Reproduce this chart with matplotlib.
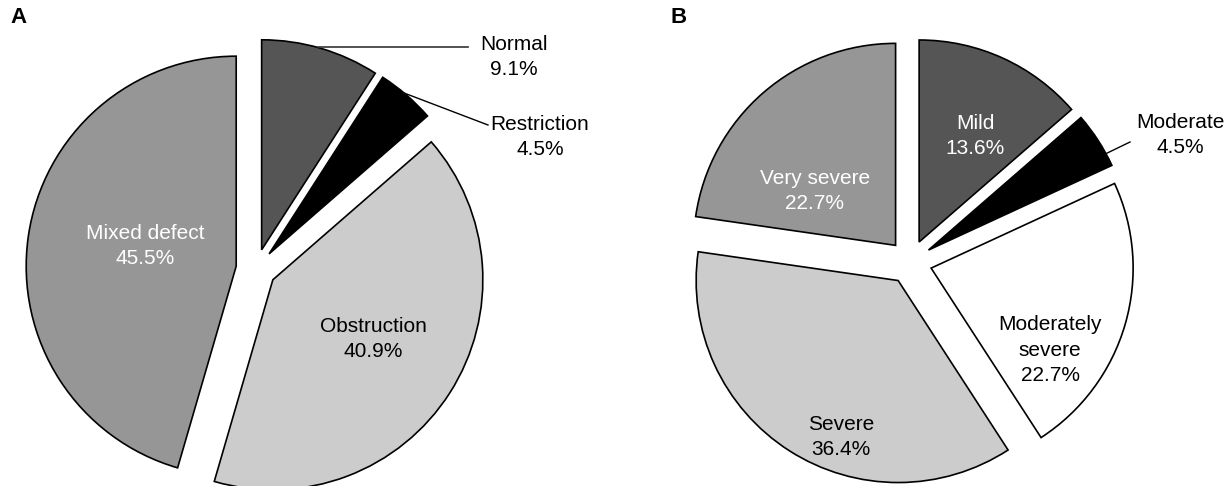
import matplotlib
matplotlib.use("Agg")
import matplotlib.pyplot as plt

plt.rcParams["font.family"] = ["Liberation Sans", "DejaVu Sans"]

# Panel A: pulmonary function pattern
labels_a = ["Normal", "Restriction", "Obstruction", "Mixed defect"]
values_a = [9.1, 4.5, 40.9, 45.5]
colors_a = ["#555555", "#000000", "#cccccc", "#969696"]

# Panel B: severity
labels_b = ["Mild", "Moderate", "Moderately\nsevere", "Severe", "Very severe"]
values_b = [13.6, 4.5, 22.7, 36.4, 22.7]
colors_b = ["#555555", "#000000", "#ffffff", "#cccccc", "#969696"]

W, H = 1232, 486


def Y(y):
    # screen pixel row -> data y
    return H - y


fig = plt.figure(figsize=(W / 100, H / 100), dpi=100)
ax = fig.add_axes([0, 0, 1, 1])

wp = dict(edgecolor="black", linewidth=1.2)
ax.pie(values_a, colors=colors_a, startangle=90, counterclock=False,
       center=(256, Y(269)), radius=210, explode=[20] * len(values_a), wedgeprops=wp)
ax.pie(values_b, colors=colors_b, startangle=90, counterclock=False,
       center=(910, Y(262)), radius=202, explode=[22] * len(values_b), wedgeprops=wp)

fs = 15
txt = dict(fontsize=fs, ha="center", va="center", linespacing=1.45)

# panel A labels
ax.text(145, Y(246), f"{labels_a[3]}\n{values_a[3]}%", color="white", **txt)
ax.text(373, Y(339), f"{labels_a[2]}\n{values_a[2]}%", color="black", **txt)
ax.text(514, Y(57), f"{labels_a[0]}\n{values_a[0]}%", color="black", **txt)
ax.text(540, Y(137), f"{labels_a[1]}\n{values_a[1]}%", color="black", **txt)
ax.plot([318, 468], [Y(47), Y(47)], color="#333333", lw=1.2)
ax.plot([404, 488], [Y(93), Y(125)], color="black", lw=1.0)

# panel B labels
ax.text(975, Y(136), f"{labels_b[0]}\n{values_b[0]}%", color="white", **txt)
ax.text(815, Y(191), f"{labels_b[4]}\n{values_b[4]}%", color="white", **txt)
ax.text(1180, Y(135), f"{labels_b[1]}\n{values_b[1]}%", color="black", **txt)
ax.text(1050, Y(350), f"{labels_b[2]}\n{values_b[2]}%", color="black", **txt)
ax.text(841, Y(437), f"{labels_b[3]}\n{values_b[3]}%", color="black", **txt)
ax.plot([1097, 1130], [Y(158), Y(142)], color="black", lw=1.0)

ax.text(10, Y(18), "A", fontsize=16, fontweight="bold", ha="left", va="center")
ax.text(670, Y(18), "B", fontsize=16, fontweight="bold", ha="left", va="center")

ax.set_xlim(0, W)
ax.set_ylim(0, H)
ax.set_aspect("equal")
ax.axis("off")

fig.savefig("out.png", dpi=100)
